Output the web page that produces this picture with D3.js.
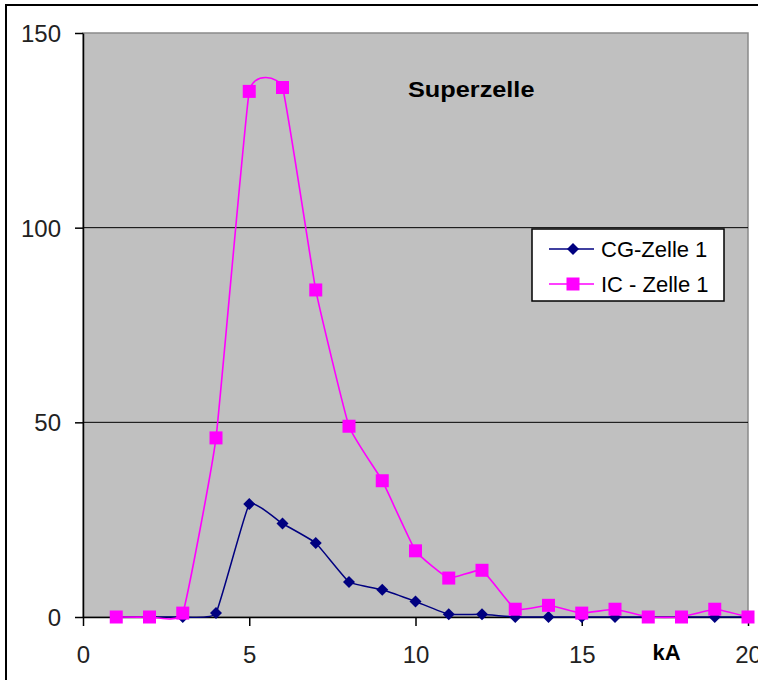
<!DOCTYPE html>
<html><head><meta charset="utf-8">
<script src="https://cdn.jsdelivr.net/npm/d3@7"></script>
<style>
body{margin:0;background:#fff;}
svg{display:block;font-family:"Liberation Sans",Arial,sans-serif;}
</style></head>
<body>
<svg id="chart" width="765" height="680"></svg>
<script>
const kA = [1,2,3,4,5,6,7,8,9,10,11,12,13,14,15,16,17,18,19,20];
const cgZelle1 = [0,0,0,1,29,24,19,9,7,4,0.7,0.7,0,0,0,0,0,0,0,0];
const icZelle1 = [0,0,1,46,135,136,84,49,35,17,10,12,2,3,1,2,0,0,2,0];
const xTicks = [0,5,10,15,20];
const yTicks = [0,50,100,150];
const gridValues = [50,100];
const seriesNames = ["CG-Zelle 1","IC - Zelle 1"];
const titleText = "Superzelle";
const xTitle = "kA";

const svg = d3.select("#chart");
const L = 83, T = 33, R = 748, B = 617;
const x = d3.scaleLinear().domain([0,20]).range([L,R]);
const y = d3.scaleLinear().domain([0,150]).range([B,T]);

svg.append("defs").append("clipPath").attr("id","pageclip")
  .append("rect").attr("x",0).attr("y",0).attr("width",758).attr("height",680);
const root = svg.append("g").attr("clip-path","url(#pageclip)");

root.append("line").attr("x1",6).attr("x2",6).attr("y1",5).attr("y2",680).attr("stroke","#000").attr("stroke-width",2);
root.append("line").attr("x1",5).attr("x2",765).attr("y1",5).attr("y2",5).attr("stroke","#000").attr("stroke-width",2);

root.append("rect").attr("x",L).attr("y",T).attr("width",R-L).attr("height",B-T)
  .attr("fill","#c0c0c0").attr("stroke","#8a8a8a").attr("stroke-width",1.5);

root.selectAll(".grid").data(gridValues).join("line")
  .attr("x1",L).attr("x2",R).attr("y1",d=>y(d)).attr("y2",d=>y(d))
  .attr("stroke","#000").attr("stroke-width",1);

const ya = root.append("g").attr("transform",`translate(${L},0)`)
  .call(d3.axisLeft(y).tickValues(yTicks).tickSize(8).tickSizeOuter(0).tickPadding(14));
ya.select(".domain").attr("stroke","#000").attr("stroke-width",1.5);
ya.selectAll(".tick line").attr("stroke","#000").attr("stroke-width",1.5);
ya.selectAll(".tick text").attr("font-size",24).attr("fill","#222").attr("dy","0.35em")
  .attr("font-family","'Liberation Sans',Arial,sans-serif");

const xa = root.append("g").attr("transform",`translate(0,${B})`)
  .call(d3.axisBottom(x).tickValues(xTicks).tickSize(9).tickSizeOuter(0));
xa.select(".domain").attr("stroke","#000").attr("stroke-width",1.5);
xa.selectAll(".tick line").attr("stroke","#000").attr("stroke-width",1.5);
xa.selectAll(".tick text").attr("font-size",24).attr("fill","#222")
  .attr("y",46).attr("dy",0).attr("font-family","'Liberation Sans',Arial,sans-serif");

root.append("text").attr("x",x(17.55)).attr("y",660).attr("text-anchor","middle")
  .attr("font-size",22).attr("font-weight","bold").text(xTitle);

root.append("text").attr("transform","translate(408,97) scale(1.15,1)")
  .attr("font-size",22).attr("font-weight","bold").text(titleText);

const curve = d3.curveCardinal.tension(0.65);
const cgData = kA.map((k,i)=>[k,cgZelle1[i]]);
const icData = kA.map((k,i)=>[k,icZelle1[i]]);
const line = d3.line().x(d=>x(d[0])).y(d=>y(d[1])).curve(curve);

root.append("path").attr("d",line(cgData)).attr("fill","none").attr("stroke","#000080").attr("stroke-width",1.5);
root.selectAll(".cg").data(cgData).join("path").attr("class","cg")
  .attr("transform",d=>`translate(${x(d[0])},${y(d[1])})`)
  .attr("d","M0,-6L6,0L0,6L-6,0Z").attr("fill","#000080");

root.append("path").attr("d",line(icData)).attr("fill","none").attr("stroke","#ff00ff").attr("stroke-width",1.6);
root.selectAll(".ic").data(icData).join("rect").attr("class","ic")
  .attr("x",d=>x(d[0])-6.5).attr("y",d=>y(d[1])-6.5).attr("width",13).attr("height",13)
  .attr("fill","#ff00ff");

const lg = root.append("g");
lg.append("rect").attr("x",532).attr("y",229).attr("width",192).attr("height",72)
  .attr("fill","#fff").attr("stroke","#000").attr("stroke-width",1.5);
const rows = [249,284];
const cols = ["#000080","#ff00ff"];
rows.forEach((ry,i)=>{
  lg.append("line").attr("x1",549).attr("x2",594).attr("y1",ry).attr("y2",ry).attr("stroke",cols[i]).attr("stroke-width",1.5);
  if(i===0) lg.append("path").attr("transform",`translate(573,${ry})`).attr("d","M0,-6L6,0L0,6L-6,0Z").attr("fill",cols[i]);
  else lg.append("rect").attr("x",573-6.5).attr("y",ry-6.5).attr("width",13).attr("height",13).attr("fill",cols[i]);
  lg.append("text").attr("x",601).attr("y",ry).attr("dy","0.36em").attr("font-size",22).text(seriesNames[i]);
});
</script>
</body></html>
